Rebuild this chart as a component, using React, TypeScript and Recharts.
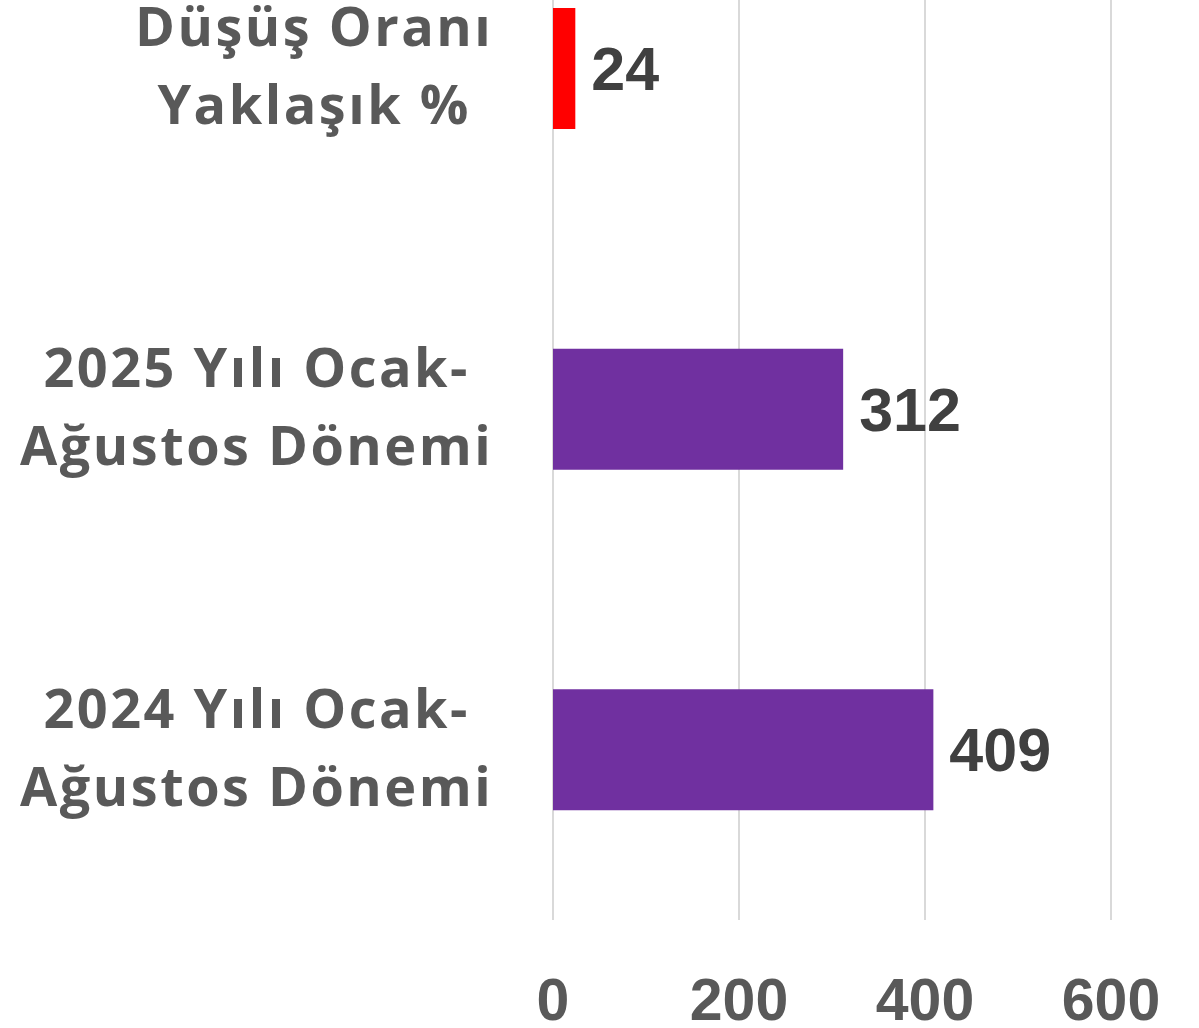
import React from "react"
import { BarChart, Bar, XAxis, YAxis, CartesianGrid, Cell, LabelList } from "recharts"

const categories = ["Düşüş Oranı\nYaklaşık %", "2025 Yılı Ocak-\nAğustos Dönemi", "2024 Yılı Ocak-\nAğustos Dönemi"]
const values = [24, 312, 409]
const barColors = ["#FF0000", "#7030A0", "#7030A0"]
const xTicks = [0, 200, 400, 600]

const FONT = "'Liberation Sans', Arial, sans-serif"
const LABEL_FONT = "'Open Sans', sans-serif"
const LABEL_SIZE = 54
const LABEL_SPACING = 2.5

const chartData = categories.map((name, i) => ({ name, value: values[i] }))

let ctx: CanvasRenderingContext2D | null = null
function measure(text: string) {
  if (!ctx) ctx = document.createElement("canvas").getContext("2d")
  if (!ctx) return text.length * LABEL_SIZE * 0.6
  ctx.font = `bold ${LABEL_SIZE}px ${LABEL_FONT}`
  return ctx.measureText(text).width + text.length * LABEL_SPACING
}

// multi-line category label, lines centred inside a right-aligned block
function CategoryTick(props: any) {
  const { x, y, payload } = props
  const lines: string[] = String(payload.value).split("\n")
  const widest = Math.max(...lines.map((l) => measure(l)))
  const cx = x - widest / 2 + LABEL_SPACING / 2
  return (
    <g>
      {lines.map((line, i) => (
        <text
          key={i}
          x={cx}
          y={y - 22 + i * 78}
          textAnchor="middle"
          fill="#595959"
          fontSize={LABEL_SIZE}
          fontWeight="bold"
          fontFamily={LABEL_FONT}
          letterSpacing={LABEL_SPACING}
        >
          {line}
        </text>
      ))}
    </g>
  )
}

function ValueTick(props: any) {
  const { x, y, payload } = props
  return (
    <text x={x} y={y + 100} textAnchor="middle" fill="#595959" fontSize={59} fontWeight="bold" fontFamily={FONT}>
      {payload.value}
    </text>
  )
}

export default function App() {
  return (
    <div style={{ position: "absolute", left: 0, top: -102, width: 1199, height: 1130, background: "#fff" }}>
      <BarChart
        width={1199}
        height={1130}
        data={chartData}
        layout="vertical"
        margin={{ top: 0, right: 88, bottom: 0, left: 0 }}
        barSize={121}
      >
        <CartesianGrid horizontal={false} stroke="#D9D9D9" strokeWidth={2} />
        <XAxis
          type="number"
          domain={[0, 600]}
          ticks={xTicks}
          height={108}
          axisLine={false}
          tickLine={false}
          tickSize={0}
          tickMargin={0}
          tick={<ValueTick />}
          interval={0}
        />
        <YAxis
          type="category"
          dataKey="name"
          width={553}
          axisLine={false}
          tickLine={false}
          tickSize={0}
          tickMargin={61}
          tick={<CategoryTick />}
          interval={0}
        />
        <Bar dataKey="value" isAnimationActive={false}>
          {chartData.map((d, i) => (
            <Cell key={d.name} fill={barColors[i]} />
          ))}
          <LabelList
            dataKey="value"
            position="right"
            offset={16}
            fill="#404040"
            fontSize={61}
            fontWeight="bold"
            fontFamily={FONT}
          />
        </Bar>
      </BarChart>
    </div>
  )
}
